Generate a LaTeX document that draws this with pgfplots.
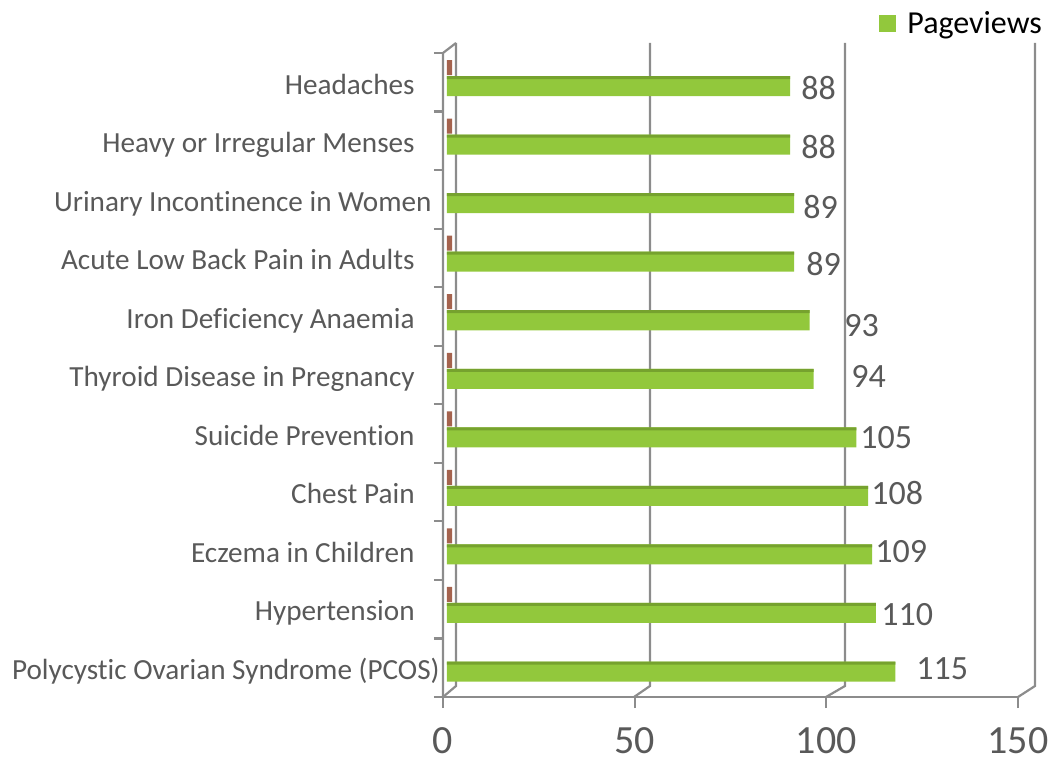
\documentclass[border=0pt]{standalone}
\usepackage{fontspec}
\setmainfont{Carlito}[Ligatures={NoCommon}]
\usepackage{pgfplots}
\usepackage{pgfplotstable}
\pgfplotsset{compat=1.18}
\definecolor{labelgray}{HTML}{595959}
\definecolor{framegray}{HTML}{8C8C8C}
\definecolor{barface}{HTML}{92C83C}
\definecolor{bartop}{HTML}{76A22E}
\definecolor{brownbar}{HTML}{A5634E}

\pgfplotstableread{
k value dx dy
0 115 10.25 1.25
1 110 2.5 -1
2 109 1.45 1.2
3 108 1.4 1.45
4 105 1.75 -0.1
5 94 18.7 1.4
6 93 17.15 -2.9
7 89 5.95 -1.15
8 89 4.45 -1.95
9 88 5.4 -1.2
10 88 5.4 -1
}\pageviews

\pgfplotstableread{
k value
1 1.3
2 1.3
3 1.3
4 1.3
5 1.3
6 1.3
7 1.3
9 1.3
10 1.3
}\second

\begin{document}
\begin{tikzpicture}
\useasboundingbox (-223.5bp,-30.1bp) rectangle (303bp,350.4bp);
% 3D frame (walls and floor)
\begin{scope}[draw=framegray, line width=1.1bp]
  \draw (-2bp,1.9bp) -- (-2bp,323.9bp) -- (4.5bp,328.9bp);
  \foreach \j in {0,...,11} {
    \draw (-6.5bp,323.9bp-\j*29.275bp) -- (-2bp,323.9bp-\j*29.275bp);
  }
  \draw (4.5bp,328.9bp) -- (4.5bp,7.4bp) -- (-2bp,1.9bp);
  \draw (101.5bp,328.9bp) -- (101.5bp,7.4bp) -- (93.5bp,1.9bp);
  \draw (199bp,328.9bp) -- (199bp,7.4bp) -- (189.5bp,1.9bp);
  \draw (294bp,328.9bp) -- (294bp,7.4bp) -- (285.5bp,1.9bp);
\end{scope}
% front floor scale
\begin{axis}[
  at={(-2bp,1.9bp)}, anchor=south west,
  scale only axis, width=287.5bp, height=10bp,
  xmin=0, xmax=150, ymin=0, ymax=1,
  axis x line*=bottom, axis y line=none, ytick=\empty,
  xtick={0,50,100,150},
  tick align=outside, major tick length=5.5bp,
  axis line style={draw=framegray, line width=1.1bp, -},
  tick style={draw=framegray, line width=1.1bp},
  xticklabel style={font=\fontsize{20bp}{23bp}\selectfont, text=labelgray, anchor=base, inner sep=0pt, yshift=-22.5bp},
  /pgf/number format/assume math mode=true,
]
\addplot[draw=none, forget plot] coordinates {(0,0)};
\end{axis}
% bars
\begin{axis}[
  at={(0,0)}, anchor=south west,
  scale only axis, width=292.5bp, height=322bp,
  xmin=0, xmax=150, ymin=-0.5, ymax=10.5,
  clip=false,
  axis line style={draw=none}, tick style={draw=none},
  xtick=\empty,
  ytick={0,...,10},
  yticklabels={Polycystic Ovarian Syndrome (PCOS)\hspace*{-12.5bp}\mbox{},Hypertension,Eczema in Children,Chest Pain,Suicide Prevention,Thyroid Disease in Pregnancy,Iron Deficiency Anaemia,Acute Low Back Pain in Adults,Urinary Incontinence in Women\hspace*{-8.5bp}\mbox{},Heavy or Irregular Menses,Headaches},
  yticklabel style={anchor=base east, inner sep=0pt, xshift=-16bp, yshift=-4bp, font=\fontsize{14.6bp}{17bp}\selectfont, text=labelgray},
  /pgf/number format/assume math mode=true,
  legend style={at={(0.7385,1.051)}, anchor=west, draw=none, fill=none, inner sep=0pt, font=\fontsize{16bp}{19bp}\selectfont, text=black},
]
\addplot[xbar, bar width=7.5bp, bar shift=9.25bp, fill=brownbar, draw=none, forget plot] table[x=value, y=k] {\second};
\addplot[xbar, bar width=10bp, bar shift=0bp, fill=barface, draw=none,
  legend image code/.code={\fill[barface] (0bp,-4.25bp) rectangle (8.5bp,4.25bp); \path (12bp,0bp);},
  point meta=x,
  visualization depends on={\thisrow{dx} \as \dx},
  visualization depends on={\thisrow{dy} \as \dy},
  nodes near coords,
  nodes near coords style={anchor=west, inner sep=0pt, xshift=\dx*1bp, yshift=\dy*1bp, font=\fontsize{17bp}{20bp}\selectfont, text=labelgray},
] table[x=value, y=k] {\pageviews};
\addlegendentry{Pageviews}
\addplot[xbar, bar width=1.5bp, bar shift=4.25bp, fill=bartop, draw=none, forget plot] table[x=value, y=k] {\pageviews};
\end{axis}
\end{tikzpicture}
\end{document}
